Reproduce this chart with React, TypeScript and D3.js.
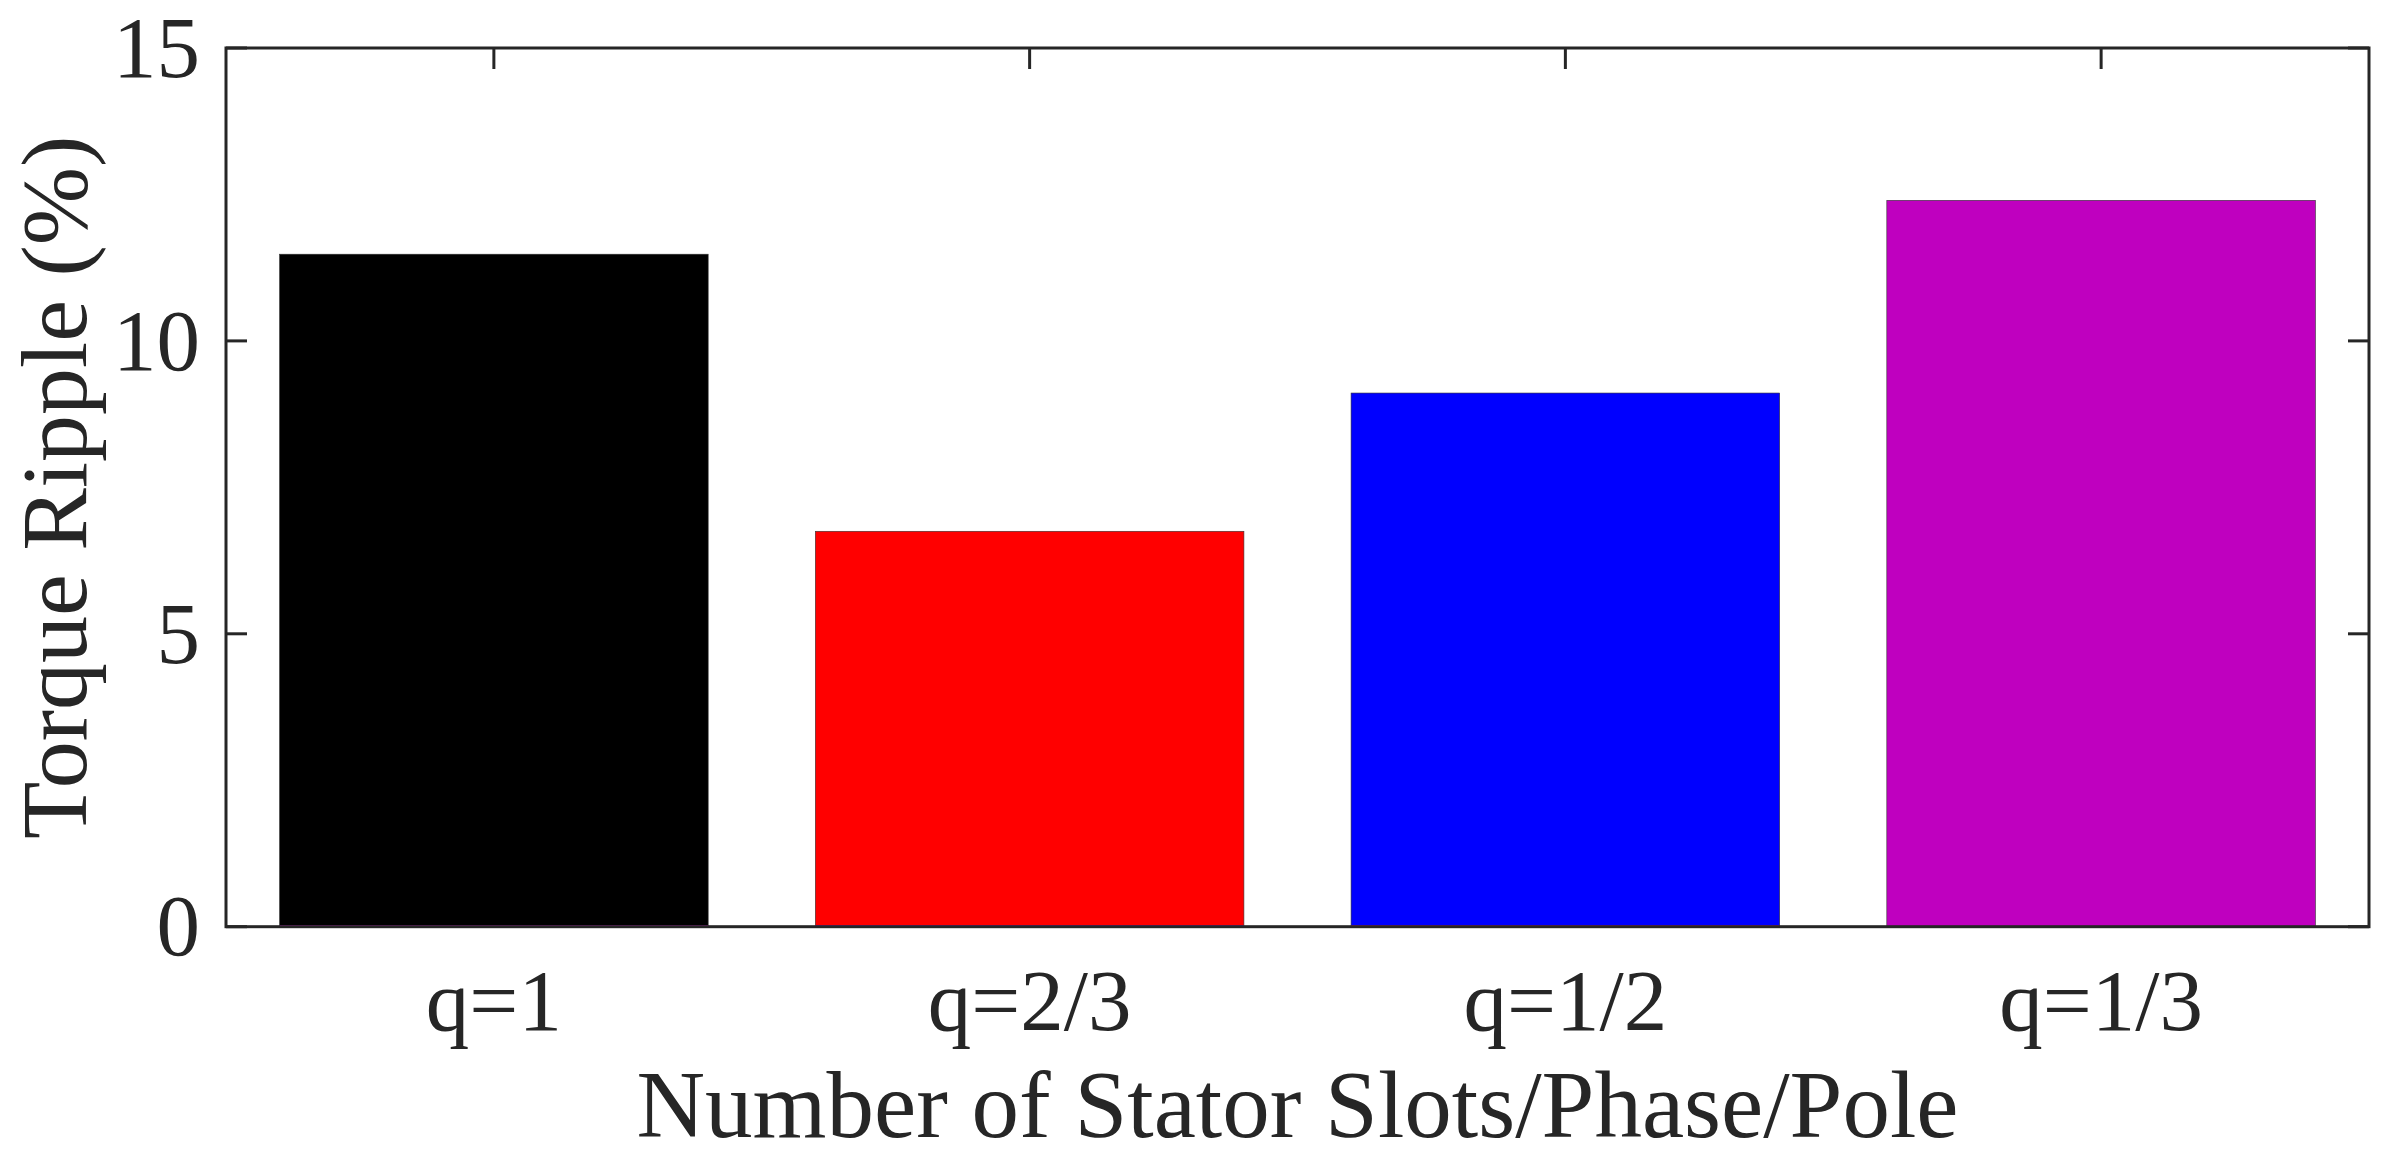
import React from "react";
import * as d3 from "d3";

const categories = ["q=1", "q=2/3", "q=1/2", "q=1/3"];
const rippleValues = [11.48, 6.75, 9.11, 12.4];
const barColors = ["#000000", "#FF0000", "#0000FF", "#BF00BF"];
const yTicks = [0, 5, 10, 15];
const xLabel = "Number of Stator Slots/Phase/Pole";
const yLabel = "Torque Ripple (%)";

const W = 2398;
const H = 1170;
const M = { left: 226, right: 2369, top: 48, bottom: 926.7 };
const AXIS = "#262626";
const FONT = "'Liberation Serif', 'Times New Roman', serif";

export default function App() {
  const x = d3
    .scaleBand<string>()
    .domain(categories)
    .range([M.left, M.right])
    .paddingInner(0.2)
    .paddingOuter(0.1);
  const y = d3.scaleLinear().domain([0, 15]).range([M.bottom, M.top]);
  const tickLen = 21;

  return (
    <svg
      width={W}
      height={H}
      style={{ position: "absolute", left: 0, top: 0, background: "#fff" }}
    >
      <rect x={0} y={0} width={W} height={H} fill="#fff" />
      {/* ticks (under bars) */}
      {yTicks.map((t) => (
        <g key={"yt" + t}>
          <line x1={M.left} x2={M.left + tickLen} y1={y(t)} y2={y(t)} stroke={AXIS} strokeWidth={3} />
          <line x1={M.right} x2={M.right - tickLen} y1={y(t)} y2={y(t)} stroke={AXIS} strokeWidth={3} />
        </g>
      ))}
      {categories.map((c) => {
        const cx = (x(c) as number) + x.bandwidth() / 2;
        return (
          <g key={"xt" + c}>
            <line x1={cx} x2={cx} y1={M.bottom} y2={M.bottom - tickLen} stroke={AXIS} strokeWidth={3} />
            <line x1={cx} x2={cx} y1={M.top} y2={M.top + tickLen} stroke={AXIS} strokeWidth={3} />
          </g>
        );
      })}
      {categories.map((c, i) => (
        <g key={c}>
          <rect
            x={x(c)}
            y={y(rippleValues[i])}
            width={x.bandwidth()}
            height={y(0) - y(rippleValues[i])}
            fill={barColors[i]}
            stroke="#333"
            strokeWidth={0.6}
          />
          <line
            x1={x(c)}
            x2={(x(c) as number) + x.bandwidth()}
            y1={y(0) - 1}
            y2={y(0) - 1}
            stroke="#BF00BF"
            strokeWidth={1.5}
          />
        </g>
      ))}
      {/* box */}
      <rect
        x={M.left}
        y={M.top}
        width={M.right - M.left}
        height={M.bottom - M.top}
        fill="none"
        stroke={AXIS}
        strokeWidth={3}
      />
      {yTicks.map((t) => (
        <text
          key={"yl" + t}
          x={M.left - 26}
          y={y(t)}
          dy="0.33em"
          textAnchor="end"
          fontFamily={FONT}
          fontSize={87}
          fill={AXIS}
        >
          {t}
        </text>
      ))}
      {categories.map((c) => {
        const cx = (x(c) as number) + x.bandwidth() / 2;
        return (
          <text
            key={"xl" + c}
            x={cx}
            y={1030}
            textAnchor="middle"
            fontFamily={FONT}
            fontSize={87}
            fill={AXIS}
          >
            {c}
          </text>
        );
      })}
      <text
        x={(M.left + M.right) / 2}
        y={1137}
        textAnchor="middle"
        fontFamily={FONT}
        fontSize={95}
        fill={AXIS}
      >
        {xLabel}
      </text>
      <text
        transform={`translate(86, ${(M.top + M.bottom) / 2}) rotate(-90)`}
        textAnchor="middle"
        fontFamily={FONT}
        fontSize={94}
        fill={AXIS}
      >
        {yLabel}
      </text>
    </svg>
  );
}
